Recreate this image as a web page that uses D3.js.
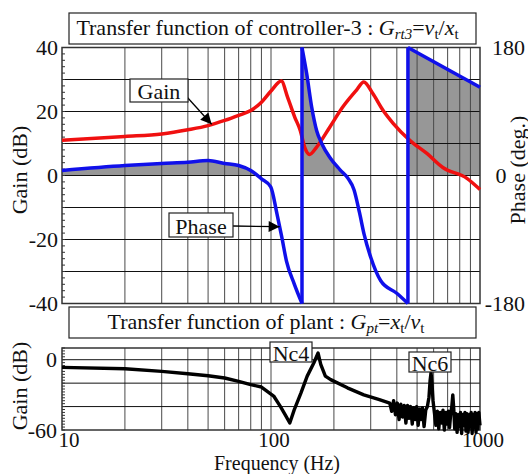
<!DOCTYPE html>
<html>
<head>
<meta charset="utf-8">
<script src="https://cdn.jsdelivr.net/npm/d3@7"></script>
<style>
  body { margin: 0; background: #fff; }
  svg text { font-family: "Liberation Serif", Tinos, "DejaVu Serif", serif; fill: #111; }
</style>
</head>
<body>
<svg id="chart" width="528" height="474" font-family="Liberation Serif, DejaVu Serif, serif"></svg>
<script>
// controller gain (dB) vs frequency (Hz)
const gainFreq = [10, 20, 30, 40, 50, 60, 70, 80, 90, 100, 112, 120, 130, 138, 145, 153, 165, 191, 220, 256, 278, 307, 344, 384, 463, 557, 664, 866, 1000]
const gainDb   = [11.0, 12.2, 13.0, 14.3, 15.6, 17.2, 18.8, 20.3, 22.9, 26.4, 29.5, 24.5, 18.2, 14.1, 8.8, 6.6, 8.8, 15.1, 21.3, 26.6, 29.2, 25.6, 20.3, 16.3, 10.9, 6.9, 2.5, -0.9, -4.4]

// controller phase (deg), split where it wraps from -180 to 180
const phaseFreq1 = [10, 20, 30, 40, 50, 60, 70, 80, 90, 99.7, 106.8, 112.7, 118.5, 129, 140.7]
const phaseDeg1  = [7, 14, 17, 18.7, 21, 17, 14, 7, -4.7, -16, -54, -87, -120, -152, -180]
const phaseFreq2 = [140.7, 148.2, 156.6, 165.4, 174.8, 191.6, 214, 233.6, 249.5, 265, 278.6, 300, 335, 401, 452]
const phaseDeg2  = [180, 143, 96, 63, 45, 25, 8, -4, -20, -52, -82, -115, -148, -166, -180]
const phaseFreq3 = [452, 1000]
const phaseDeg3  = [180, 124]

// plant gain (dB) vs frequency (Hz), measured (noisy above ~370 Hz)
const plantFreq = [10, 20, 30, 40, 50, 60, 70, 80, 90, 103, 111, 117, 123, 129, 139, 149, 160, 168, 173, 182, 193, 232, 278, 330, 370,
  378, 386, 394, 402, 410, 418, 426, 434, 442, 450, 458, 466, 474, 482, 490, 498, 506, 514, 522, 530, 540, 550, 560, 570, 577, 583, 589, 596,
  605, 615, 625, 635, 645, 655, 665, 675, 685, 695, 705, 715, 725, 733, 741, 749, 757, 767, 777, 787, 797, 807, 817, 827, 837, 847, 857,
  867, 877, 887, 897, 907, 917, 927, 937, 947, 957, 967, 977, 987, 1000]
const plantDb = [-6.5, -7.7, -10, -12, -13.7, -15.6, -18.5, -21.3, -23.3, -31, -40, -47, -54, -43, -28.5, -14, -3, 5.7, -4, -14, -17, -24, -30, -34, -37,
  -44, -35, -47, -37, -51, -38, -49, -39, -54, -39, -50, -40, -55, -41, -51, -40, -56, -42, -51, -41, -57, -43, -40, -32, -18, -11, -20, -35,
  -45, -56, -44, -59, -45, -54, -43, -60, -45, -55, -44, -58, -45, -40, -30, -42, -59, -46, -62, -47, -57, -45, -63, -47, -56, -45, -61,
  -46, -62, -47, -57, -45, -63, -47, -58, -45, -62, -46, -59, -45, -56]

const gainTicks = [-40, -20, 0, 20, 40]
const phaseTicks = [-180, 0, 180]
const plantTicks = [-60, 0]
const freqTicks = [10, 100, 1000]

const svg = d3.select("#chart")
const serif = "'Liberation Serif', 'DejaVu Serif', serif"
const fs = 22

const x = d3.scaleLog().domain([10, 1000]).range([62, 480])
const yGain = d3.scaleLinear().domain([-40, 40]).range([303.5, 47.5])
const yPhase = d3.scaleLinear().domain([-180, 180]).range([303.5, 47.5])
const yPlant = d3.scaleLinear().domain([-60, 10]).range([430, 348])

const zip = (fs, vs) => fs.map((f, i) => [f, vs[i]])
const phaseSegs = [zip(phaseFreq1, phaseDeg1), zip(phaseFreq2, phaseDeg2), zip(phaseFreq3, phaseDeg3)]

// gray fill where phase is positive
const phaseArea = d3.area()
  .x(d => x(d[0]))
  .y0(yPhase(0))
  .y1(d => yPhase(Math.max(d[1], 0)))
  .curve(d3.curveMonotoneX)

svg.selectAll(".phase-fill")
  .data(phaseSegs)
  .join("path")
  .attr("class", "phase-fill")
  .attr("d", phaseArea)
  .attr("fill", "#979797")

// grid lines for both panels
const gridFreqs = x.ticks().filter(f => f > 10 && f < 1000)
function grid(yScale, levels, y0, y1) {
  const g = svg.append("g")
  g.selectAll("line.v")
    .data(gridFreqs)
    .join("line")
    .attr("x1", d => x(d)).attr("x2", d => x(d))
    .attr("y1", y0).attr("y2", y1)
    .attr("stroke", "#4a4a4a").attr("stroke-width", 1)
  g.selectAll("line.h")
    .data(levels)
    .join("line")
    .attr("x1", 62).attr("x2", 480)
    .attr("y1", d => yScale(d)).attr("y2", d => yScale(d))
    .attr("stroke", "#111").attr("stroke-width", 1)
  // frame
  g.append("rect")
    .attr("x", 62).attr("y", y0)
    .attr("width", 418).attr("height", y1 - y0)
    .attr("fill", "none").attr("stroke", "#333").attr("stroke-width", 1.5)
  return g
}
grid(yGain, d3.range(-30, 40, 10), yGain(40), yGain(-40))
grid(yPlant, [-40, -20, 0], yPlant(10), yPlant(-60))

// minor ticks on the left axes
svg.append("g").selectAll("line")
  .data(d3.range(-40, 41, 2))
  .join("line")
  .attr("x1", 62).attr("x2", 65)
  .attr("y1", d => yGain(d)).attr("y2", d => yGain(d))
  .attr("stroke", "#333")
svg.append("g").selectAll("line")
  .data(d3.range(-60, 11, 2.5))
  .join("line")
  .attr("x1", 62).attr("x2", 65)
  .attr("y1", d => yPlant(d)).attr("y2", d => yPlant(d))
  .attr("stroke", "#333")

// curves
const gainLine = d3.line()
  .x(d => x(d[0])).y(d => yGain(d[1]))
  .curve(d3.curveMonotoneX)
svg.append("path")
  .datum(zip(gainFreq, gainDb))
  .attr("d", gainLine)
  .attr("fill", "none").attr("stroke", "#f01010").attr("stroke-width", 3.5)

const phaseLine = d3.line()
  .x(d => x(d[0])).y(d => yPhase(d[1]))
  .curve(d3.curveMonotoneX)
svg.selectAll(".phase")
  .data(phaseSegs)
  .join("path")
  .attr("class", "phase")
  .attr("d", phaseLine)
  .attr("fill", "none").attr("stroke", "#1010ea").attr("stroke-width", 3.5)
  .attr("stroke-linejoin", "round")
// vertical wrap jumps
svg.selectAll(".wrap")
  .data(phaseSegs.slice(1).map((s, i) => [phaseSegs[i][phaseSegs[i].length - 1], s[0]]))
  .join("line")
  .attr("class", "wrap")
  .attr("x1", d => x(d[0][0])).attr("x2", d => x(d[1][0]))
  .attr("y1", d => yPhase(d[0][1])).attr("y2", d => yPhase(d[1][1]))
  .attr("stroke", "#1010ea").attr("stroke-width", 3.5)

svg.append("path")
  .datum(zip(plantFreq, plantDb))
  .attr("d", d3.line().x(d => x(d[0])).y(d => yPlant(d[1])))
  .attr("fill", "none").attr("stroke", "#000").attr("stroke-width", 3.4)
  .attr("stroke-linejoin", "round")

// tick labels
function txt(sel) {
  return sel.attr("font-family", serif).style("font-family", serif)
}
txt(svg.append("g").selectAll("text")
  .data(gainTicks)
  .join("text"))
  .attr("x", 58).attr("y", d => yGain(d))
  .attr("text-anchor", "end").attr("dominant-baseline", "central")
  .style("font-size", fs + "px")
  .text(d => d)
txt(svg.append("g").selectAll("text")
  .data(phaseTicks)
  .join("text"))
  .attr("x", d => d == 0 ? 501 : 525).attr("y", d => yPhase(d))
  .attr("text-anchor", d => d == 0 ? "middle" : "end").attr("dominant-baseline", "central")
  .style("font-size", fs + "px")
  .text(d => d)
txt(svg.append("g").selectAll("text")
  .data(plantTicks)
  .join("text"))
  .attr("x", 57).attr("y", d => yPlant(d))
  .attr("text-anchor", "end").attr("dominant-baseline", "central")
  .style("font-size", fs + "px")
  .text(d => d)
txt(svg.append("g").selectAll("text")
  .data(freqTicks)
  .join("text"))
  .attr("x", d => x(d) + (d == 10 ? 7 : 3)).attr("y", 447)
  .attr("text-anchor", "middle")
  .style("font-size", "21px")
  .text(d => d)

// axis titles
function vLabel(s, cx, cy) {
  txt(svg.append("text"))
    .attr("transform", `translate(${cx},${cy}) rotate(-90)`)
    .attr("text-anchor", "middle").attr("dominant-baseline", "central")
    .style("font-size", fs + "px")
    .text(s)
}
vLabel("Gain (dB)", 19, 170)
vLabel("Phase (deg.)", 517, 170)
vLabel("Gain (dB)", 19, 386)
txt(svg.append("text"))
  .attr("x", 277).attr("y", 469.5)
  .attr("text-anchor", "middle")
  .style("font-size", "20px")
  .text("Frequency (Hz)")

// panel titles with formula
function titleBox(y, h, cx, parts) {
  svg.append("rect")
    .attr("x", 69).attr("y", y).attr("width", 407).attr("height", h)
    .attr("fill", "#fff").attr("stroke", "#222").attr("stroke-width", 1.2)
  const t = txt(svg.append("text"))
    .attr("x", cx).attr("y", y + h / 2 + 6.5)
    .attr("text-anchor", "middle")
    .style("font-size", fs + "px")
  let shift = 0
  parts.forEach(([s, italic, sub]) => {
    const target = sub ? 4 : 0
    t.append("tspan")
      .attr("dy", target - shift)
      .style("font-style", italic ? "italic" : "normal")
      .style("font-size", sub ? "15px" : null)
      .text(s)
    shift = target
  })
}
titleBox(13, 31, 267.5, [["Transfer function of controller-3 : ", 0, 0], ["G", 1, 0], ["rt3", 1, 1], ["=", 0, 0],
  ["v", 1, 0], ["t", 0, 1], ["/", 0, 0], ["x", 1, 0], ["t", 0, 1]])
titleBox(307, 31, 266, [["Transfer function of plant : ", 0, 0], ["G", 1, 0], ["pt", 1, 1], ["=", 0, 0],
  ["x", 1, 0], ["t", 0, 1], ["/", 0, 0], ["v", 1, 0], ["t", 0, 1]])

// annotation boxes and arrows
svg.append("defs").append("marker")
  .attr("id", "head")
  .attr("viewBox", "0 0 10 10").attr("refX", 10).attr("refY", 5)
  .attr("markerUnits", "userSpaceOnUse")
  .attr("markerWidth", 16).attr("markerHeight", 11)
  .attr("orient", "auto")
  .append("path").attr("d", "M0,0 L10,5 L0,10 Z").attr("fill", "#000")

function label(s, bx, by, bw, bh, tip) {
  if (tip) {
    svg.append("line")
      .attr("x1", tip.from[0]).attr("y1", tip.from[1])
      .attr("x2", tip.to[0]).attr("y2", tip.to[1])
      .attr("stroke", "#000").attr("stroke-width", 1.3)
      .attr("marker-end", "url(#head)")
  }
  svg.append("rect")
    .attr("x", bx).attr("y", by).attr("width", bw).attr("height", bh)
    .attr("fill", "#fff").attr("stroke", "#222").attr("stroke-width", 1.2)
  txt(svg.append("text"))
    .attr("x", bx + bw / 2).attr("y", by + bh / 2 + 1)
    .attr("text-anchor", "middle").attr("dominant-baseline", "central")
    .style("font-size", fs + "px")
    .text(s)
}
label("Gain", 130, 79, 58, 23, { from: [187, 97], to: [x(52), yGain(16)] })
label("Phase", 169, 213, 64, 24, { from: [233, 226], to: [x(110), yPhase(-72)] })
label("Nc4", 270, 342, 42, 20)
label("Nc6", 409, 352, 42, 20)
</script>
</body>
</html>
